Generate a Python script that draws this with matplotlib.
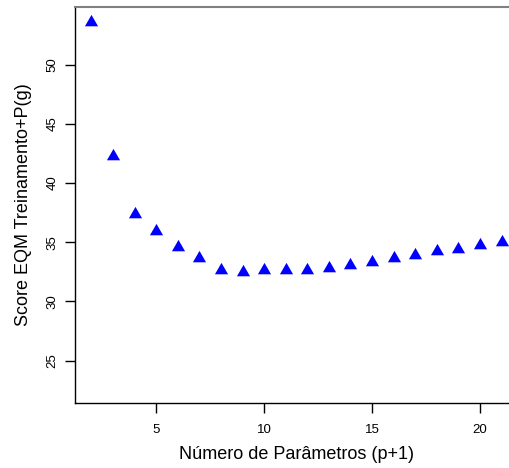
import matplotlib
matplotlib.use("Agg")
import matplotlib.pyplot as plt

# numero de parametros (p+1) e score EQM treino + penalidade
n_params = [2, 3, 4, 5, 6, 7, 8, 9, 10, 11, 12, 13, 14, 15, 16, 17, 18, 19, 20, 21]
score = [53.6, 42.27, 37.4, 35.98, 34.6, 33.68, 32.67, 32.46, 32.7, 32.69, 32.64,
         32.79, 33.06, 33.35, 33.66, 33.96, 34.24, 34.46, 34.76, 35.03]

xticks = [5, 10, 15, 20]
yticks = [25, 30, 35, 40, 45, 50]

plt.rcParams['font.family'] = ['Liberation Sans', 'DejaVu Sans']

fig = plt.figure(figsize=(5.09, 4.68), dpi=100)
# eixo passa da borda direita, como no original (cortado)
ax = fig.add_axes([75 / 509, 65 / 468, 443 / 509, 396 / 468])

# triangulo centrado no centroide (pch=17 do R)
tri = [(0, 1), (-0.866, -0.5), (0.866, -0.5), (0, 1)]
ax.scatter(n_params, score, marker=tri, s=120, color='blue', linewidths=0, zorder=3)

ax.set_xlim(1.24, 21.76)
ax.set_ylim(21.42, 54.88)
ax.set_xticks(xticks)
ax.set_yticks(yticks)
ax.set_yticklabels([str(v) for v in yticks], rotation=90, va='center')
ax.tick_params(direction='out', length=7, width=1, labelsize=9.5)
ax.tick_params(axis='x', pad=8)
ax.tick_params(axis='y', pad=5)

for s in ['left', 'bottom']:
    ax.spines[s].set_color('black')
    ax.spines[s].set_linewidth(1)
ax.spines['top'].set_color('#808080')
ax.spines['top'].set_linewidth(1.5)
ax.spines['right'].set_visible(False)

ax.set_xlabel('Número de Parâmetros (p+1)', fontsize=13, labelpad=7)
ax.set_ylabel('Score EQM Treinamento+P(g)', fontsize=13, labelpad=10)

fig.savefig('out.png', dpi=100)
